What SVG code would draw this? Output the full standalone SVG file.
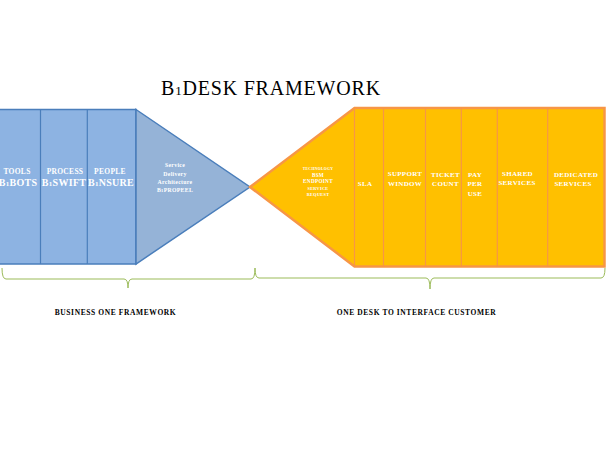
<svg xmlns="http://www.w3.org/2000/svg" width="606" height="468" viewBox="0 0 606 468">
<style>
.t{font-family:"Liberation Serif","Times New Roman",serif;font-weight:bold;fill:#ffffff;text-anchor:middle;letter-spacing:0.3px}
.k{font-family:"Liberation Serif","Times New Roman",serif;font-weight:bold;fill:#000000;text-anchor:middle;font-size:7.5px;letter-spacing:0.6px}
.blue{fill:#8db3e2;stroke:#4a7ebb;stroke-width:1.5}
.bluetri{fill:#95b3d7;stroke:#4a7ebb;stroke-width:1.5}
.org{fill:#ffc000;stroke:#f79646;stroke-width:2.5}
.div{stroke:#f79646;stroke-width:1.2;fill:none}
.bdiv{stroke:#4a7ebb;stroke-width:1.2;fill:none}
.brace{fill:none;stroke:#9bbb59;stroke-width:1}
</style>
<rect width="606" height="468" fill="#ffffff"/>
<g id="title">
<text x="161" y="95" font-family="Liberation Serif,'Times New Roman',serif" font-size="20" letter-spacing="0.8" fill="#000000">B<tspan font-size="13">1</tspan>DESK FRAMEWORK</text>
</g>
<g id="business-one">
<rect class="blue" x="-5" y="109.5" width="141" height="154.5"/>
<polygon class="bluetri" points="136,109.5 250,187 136,264"/>
<line class="bdiv" x1="40.5" y1="109.5" x2="40.5" y2="264"/>
<line class="bdiv" x1="87.3" y1="109.5" x2="87.3" y2="264"/>
</g>
<g id="tools">
<text class="t" x="17" y="174" font-size="7.5">TOOLS</text>
<text class="t" x="18" y="186" font-size="10">B<tspan font-size="7">1</tspan>BOTS</text>
</g>
<g id="process">
<text class="t" x="65" y="174" font-size="7.5">PROCESS</text>
<text class="t" x="64" y="186" font-size="10">B<tspan font-size="7">1</tspan>SWIFT</text>
</g>
<g id="people">
<text class="t" x="110" y="174" font-size="7.5">PEOPLE</text>
<text class="t" x="111" y="186" font-size="10">B<tspan font-size="7">1</tspan>NSURE</text>
</g>
<g id="sda">
<text class="t" x="175" y="167" font-size="5.8">Service</text>
<text class="t" x="175" y="176" font-size="5.8">Delivery</text>
<text class="t" x="175" y="184" font-size="5.8">Architecture</text>
<text class="t" x="175" y="192" font-size="5.8">B<tspan font-size="4.5">1</tspan>PROPEEL</text>
</g>
<g id="one-desk">
<polygon class="org" points="250,187 354.5,108 604.5,108 604.5,266.5 354.5,266.5"/>
<line class="div" x1="354.5" y1="108" x2="354.5" y2="266.5"/>
<line class="div" x1="383.5" y1="108" x2="383.5" y2="266.5"/>
<line class="div" x1="425.5" y1="108" x2="425.5" y2="266.5"/>
<line class="div" x1="461.3" y1="108" x2="461.3" y2="266.5"/>
<line class="div" x1="497.3" y1="108" x2="497.3" y2="266.5"/>
<line class="div" x1="547.7" y1="108" x2="547.7" y2="266.5"/>
</g>
<g id="technology">
<text class="t" x="318" y="170" font-size="3.8">TECHNOLOGY</text>
<text class="t" x="318" y="176.5" font-size="5.2">BSM</text>
<text class="t" x="318" y="183" font-size="5.2">ENDPOINT</text>
<text class="t" x="318" y="190" font-size="4.3">SERVICE</text>
<text class="t" x="318" y="196" font-size="4.3">REQUEST</text>
</g>
<g id="sla"><text class="t" x="365" y="186" font-size="7">SLA</text></g>
<g id="support">
<text class="t" x="405" y="176" font-size="7">SUPPORT</text>
<text class="t" x="405" y="185.5" font-size="7">WINDOW</text>
</g>
<g id="ticket">
<text class="t" x="445.5" y="176.5" font-size="7">TICKET</text>
<text class="t" x="445.5" y="186" font-size="7">COUNT</text>
</g>
<g id="pay">
<text class="t" x="475" y="176.5" font-size="7">PAY</text>
<text class="t" x="475" y="186" font-size="7">PER</text>
<text class="t" x="475" y="196" font-size="7">USE</text>
</g>
<g id="shared">
<text class="t" x="517.5" y="176" font-size="7">SHARED</text>
<text class="t" x="517" y="185" font-size="7">SERVICES</text>
</g>
<g id="dedicated">
<text class="t" x="576" y="176.5" font-size="7">DEDICATED</text>
<text class="t" x="573" y="185.5" font-size="7">SERVICES</text>
</g>
<g id="connectors">
<path class="brace" d="M2,268 Q2,279 6,279 L124,279 Q128,279 128,288 Q128,279 132,279 L251,279 Q255,279 255,268"/>
<path class="brace" d="M255,268 Q255,278 259,278 L426,278 Q430,278 430,289 Q430,278 434,278 L601,278 Q605,278 605,268"/>
</g>
<g id="labels">
<text class="k" x="115.5" y="315">BUSINESS ONE FRAMEWORK</text>
<text class="k" x="416.5" y="315">ONE DESK TO INTERFACE CUSTOMER</text>
</g>
</svg>
